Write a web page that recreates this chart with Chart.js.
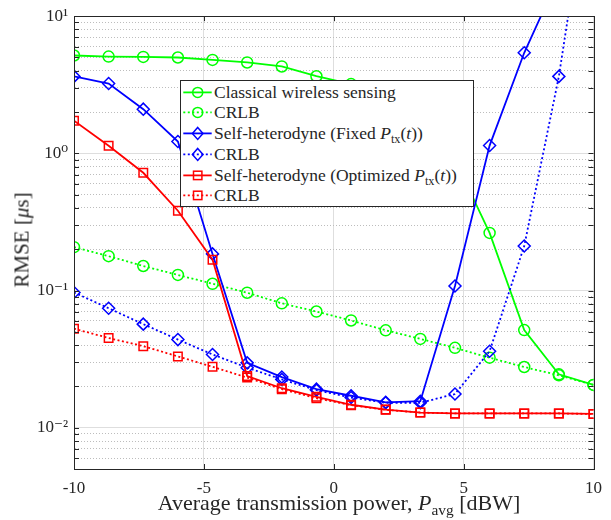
<!DOCTYPE html>
<html>
<head>
<meta charset="utf-8">
<script src="https://cdn.jsdelivr.net/npm/chart.js@4.4.1/dist/chart.umd.min.js"></script>
<style>
  body { margin: 0; background: #fff; }
  #wrap { position: relative; width: 611px; height: 520px; font-family: "Liberation Serif", "Times New Roman", "DejaVu Serif", serif; color: #262626; }
  #chart { position: absolute; left: 0; top: 0; }
  .xtitle { position: absolute; left: 339px; top: 490px; transform: translateX(-50%); white-space: nowrap; font-size: 22px; }
  .ytitle { position: absolute; left: 22px; top: 240px; transform: translate(-50%, -50%) rotate(-90deg); white-space: nowrap; font-size: 21px; }
  #legend { position: absolute; left: 180px; top: 80px; width: 292px; background: #fff; border: 1px solid #262626; padding: 0.5px 0 0 0; }
  #legend .row { height: 20.8px; line-height: 20.8px; font-size: 17.5px; white-space: nowrap; display: flex; align-items: center; }
  #legend svg { flex: none; }
  sub { font-size: 0.7em; vertical-align: -0.3em; line-height: 0; }
</style>
</head>
<body>
<div id="wrap">
  <canvas id="chart" width="611" height="520"></canvas>
  <div class="ytitle">RMSE [<i>μ</i>s]</div>
  <div class="xtitle">Average transmission power, <i>P</i><sub>avg</sub> [dBW]</div>
  <div id="legend"></div>
</div>
<script>
// Eixo x: potência média (dBW)
const power = [-10, -8.667, -7.333, -6, -4.667, -3.333, -2, -0.667, 0.667, 2, 3.333, 4.667, 6, 7.333, 8.667, 10];

// RMSE [us]
const classical     = [5.17, 5.08, 5.05, 5.0, 4.8, 4.6, 4.3, 3.65, 3.2, 2.5, 1.7, 0.9, 0.263, 0.0515, 0.0245, 0.0205];
const classicalCrlb = [0.207, 0.178, 0.151, 0.130, 0.112, 0.0964, 0.0807, 0.0703, 0.0605, 0.0513, 0.0444, 0.0382, 0.0324, 0.0277, 0.0241, 0.0205];
const fixedPtx      = [3.64, 3.23, 2.10, 1.22, 0.185, 0.0297, 0.0234, 0.0191, 0.0171, 0.0153, 0.0156, 0.108, 1.14, 5.41, 19.4, 70];
const fixedCrlb     = [0.0968, 0.0743, 0.0569, 0.0439, 0.0342, 0.0274, 0.0225, 0.0188, 0.0166, 0.0152, 0.0152, 0.0176, 0.0361, 0.211, 3.64, 160];
const optimPtx      = [1.73, 1.137, 0.722, 0.382, 0.168, 0.0238, 0.0194, 0.0168, 0.0147, 0.01355, 0.0129, 0.0127, 0.0127, 0.0127, 0.0127, 0.0126];
const optimCrlb     = [0.0527, 0.0451, 0.0393, 0.0331, 0.0278, 0.0232, 0.0191, 0.0164, 0.0146, 0.0135, 0.0129, 0.0127, 0.0127, 0.0127, 0.0127, 0.0126];

const seriesNames = [
  "Classical wireless sensing",
  "CRLB",
  "Self-heterodyne (Fixed <i>P</i><sub>tx</sub>(<i>t</i>))",
  "CRLB",
  "Self-heterodyne (Optimized <i>P</i><sub>tx</sub>(<i>t</i>))",
  "CRLB"
];
const seriesData = [classical, classicalCrlb, fixedPtx, fixedCrlb, optimPtx, optimCrlb];

// ticks
const xTicks = [-10, -5, 0, 5, 10];
const yTickValues = [0.01, 0.1, 1, 10];
const yTickText = ["10⁻²", "10⁻¹", "10⁰", "10¹"];

const colors = ["#00ff00", "#00ff00", "#0000ff", "#0000ff", "#ff0000", "#ff0000"];
const markers = ["circle", "circle", "rectRot", "rectRot", "rect", "rect"];
const radius = { circle: 5.5, rectRot: 6, rect: 6 };
const dotted = [2, 2.5];

const datasets = seriesData.map((vals, i) => ({
  label: seriesNames[i].replace(/<[^>]+>/g, ""),
  data: vals.map((v, k) => ({ x: power[k], y: v })),
  borderColor: colors[i],
  borderWidth: 1.8,
  borderDash: i % 2 ? dotted : [],
  pointStyle: markers[i],
  pointRadius: radius[markers[i]],
  pointBorderWidth: 1.5,
  pointBorderColor: colors[i],
  pointBackgroundColor: "rgba(0,0,0,0)",
  order: 5 - i,
  tension: 0
}));

function isMajor(v) {
  return yTickValues.some(t => Math.abs(t - v) / t < 1e-6);
}

// grade menor 1..9 x 10^n dentro do eixo
function yGrid(min, max) {
  const out = [];
  for (let e = -3; e <= 1; e++) {
    for (let m = 1; m <= 9; m++) {
      const v = Number((m * Math.pow(10, e)).toPrecision(6));
      if (v >= min - 1e-12 && v <= max + 1e-12) out.push(v);
    }
  }
  return out;
}

const boxTicks = {
  id: "boxTicks",
  afterDraw(chart) {
    const { ctx, chartArea: a, scales } = chart;
    const x = scales.x, y = scales.y;
    ctx.save();
    ctx.strokeStyle = "#262626";
    ctx.lineWidth = 1;
    ctx.beginPath();
    y.ticks.forEach(t => {
      const py = Math.round(y.getPixelForValue(t.value)) + 0.5;
      ctx.moveTo(a.left, py); ctx.lineTo(a.left + 5, py);
      ctx.moveTo(a.right, py); ctx.lineTo(a.right - 5, py);
    });
    x.ticks.forEach(t => {
      const px = Math.round(x.getPixelForValue(t.value)) + 0.5;
      ctx.moveTo(px, a.bottom); ctx.lineTo(px, a.bottom - 5);
      ctx.moveTo(px, a.top); ctx.lineTo(px, a.top + 5);
    });
    ctx.stroke();
    ctx.strokeRect(Math.round(a.left) + 0.5, Math.round(a.top) + 0.5, Math.round(a.right - a.left), Math.round(a.bottom - a.top));
    ctx.restore();
  }
};

const tickFont = { family: "'Liberation Serif', 'Times New Roman', 'DejaVu Serif', serif", size: 17 };

new Chart(document.getElementById("chart"), {
  type: "line",
  data: { datasets },
  plugins: [boxTicks],
  options: {
    responsive: false,
    animation: false,
    devicePixelRatio: 1,
    layout: { padding: { left: 0, top: 12, right: 16, bottom: 0 } },
    plugins: { legend: { display: false }, tooltip: { enabled: false } },
    scales: {
      x: {
        type: "linear",
        min: -10, max: 10,
        afterFit: s => { s.height = 51; },
        afterBuildTicks: s => { s.ticks = xTicks.map(v => ({ value: v })); },
        ticks: { font: tickFont, color: "#262626", padding: 9, maxRotation: 0, autoSkip: false },
        grid: { color: "#dedede", lineWidth: 1, drawTicks: false },
        border: { color: "#262626" }
      },
      y: {
        type: "logarithmic",
        min: 0.005, max: 10,
        afterFit: s => { s.width = 74; },
        afterBuildTicks: s => { s.ticks = yGrid(0.005, 10).map(v => ({ value: v, major: isMajor(v) })); },
        ticks: {
          font: tickFont, color: "#262626", padding: 6, autoSkip: false,
          callback: (v) => {
            const k = yTickValues.findIndex(t => Math.abs(t - v) / t < 1e-6);
            return k >= 0 ? yTickText[k] : "";
          }
        },
        grid: {
          drawTicks: false,
          color: c => (c.tick && !c.tick.major) ? "#bdbdbd" : "#dedede",
          lineWidth: 1
        },
        border: {
          color: "#262626",
          dash: c => (c.tick && !c.tick.major) ? [1, 2] : []
        }
      }
    }
  }
});

// legenda
const legend = document.getElementById("legend");
seriesNames.forEach((name, i) => {
  const c = colors[i];
  const dash = i % 2 ? ' stroke-dasharray="2 2.5"' : "";
  let mk;
  if (markers[i] === "circle") mk = `<circle cx="16.7" cy="10.4" r="5" fill="none" stroke="${c}" stroke-width="1.5"/>`;
  else if (markers[i] === "rectRot") mk = `<polygon points="16.7,4.4 22,10.4 16.7,16.4 11.4,10.4" fill="none" stroke="${c}" stroke-width="1.5"/>`;
  else mk = `<rect x="12.5" y="6.2" width="8.4" height="8.4" fill="none" stroke="${c}" stroke-width="1.5"/>`;
  legend.innerHTML += `
    <div class="row">
      <svg width="33" height="20.8"><line x1="2.3" y1="10.4" x2="30.7" y2="10.4" stroke="${c}" stroke-width="1.8"${dash}/>${mk}</svg>
      <span>${name}</span>
    </div>`;
});
</script>
</body>
</html>
